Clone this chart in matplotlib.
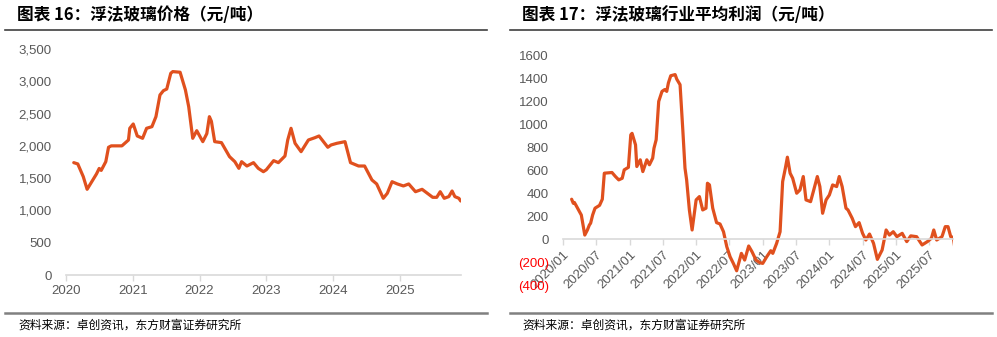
import matplotlib
matplotlib.use("Agg")
import matplotlib.pyplot as plt
from matplotlib.lines import Line2D
from matplotlib.ticker import FixedLocator
import pandas as pd

plt.rcParams['font.family'] = ['Liberation Sans Narrow', 'Liberation Sans', 'Noto Sans CJK SC', 'DejaVu Sans']

# ---------------- data ----------------
title_left = "图表 16：浮法玻璃价格（元/吨）"
title_right = "图表 17：浮法玻璃行业平均利润（元/吨）"
source_text = "资料来源：卓创资讯，东方财富证券研究所"

price_dates = [
    "2020-02-14", "2020-03-07", "2020-04-06", "2020-04-27", "2020-06-17", "2020-07-02",
    "2020-07-13", "2020-08-07", "2020-08-22", "2020-09-06", "2020-11-03", "2020-12-09",
    "2020-12-16", "2021-01-04", "2021-01-26", "2021-02-24", "2021-03-18", "2021-04-16",
    "2021-05-08", "2021-05-30", "2021-06-18", "2021-07-06", "2021-07-28", "2021-08-08",
    "2021-09-17", "2021-10-16", "2021-11-03", "2021-11-25", "2021-12-17", "2022-01-19",
    "2022-02-10", "2022-02-24", "2022-03-07", "2022-03-25", "2022-05-01", "2022-06-14",
    "2022-07-13", "2022-08-04", "2022-08-19", "2022-09-17", "2022-10-23", "2022-11-18",
    "2022-12-16", "2023-01-01", "2023-02-10", "2023-03-08", "2023-04-13", "2023-04-28",
    "2023-05-16", "2023-06-07", "2023-07-10", "2023-08-19", "2023-09-24", "2023-10-16",
    "2023-12-03", "2023-12-21", "2024-01-22", "2024-03-06", "2024-04-05", "2024-05-19",
    "2024-06-21", "2024-07-31", "2024-08-26", "2024-10-01", "2024-10-23", "2024-11-18",
    "2024-12-17", "2025-01-19", "2025-02-17", "2025-03-26", "2025-05-01", "2025-06-28",
    "2025-07-20", "2025-08-08", "2025-08-30", "2025-09-24", "2025-10-12", "2025-10-27",
    "2025-11-18", "2025-11-28",
]
price_values = [
    1740, 1720, 1523, 1327, 1564, 1650,
    1620, 1755, 1978, 2000, 2000, 2091,
    2272, 2339, 2153, 2117, 2272, 2297,
    2452, 2788, 2855, 2880, 3124, 3150,
    3140, 2866, 2607, 2117, 2235, 2065,
    2190, 2452, 2380, 2065, 2050, 1833,
    1755, 1652, 1755, 1688, 1740, 1652,
    1600, 1630, 1771, 1740, 1843, 2091,
    2272, 2040, 1910, 2091, 2127, 2153,
    1978, 2014, 2040, 2065, 1740, 1688,
    1688, 1472, 1410, 1188, 1265, 1445,
    1410, 1379, 1410, 1290, 1327, 1203,
    1203, 1290, 1188, 1214, 1301, 1214,
    1188, 1146,
]

profit_dates = [
    "2020-02-19", "2020-02-28", "2020-03-05", "2020-03-14", "2020-04-05", "2020-04-12",
    "2020-04-23", "2020-05-01", "2020-05-15", "2020-05-26", "2020-06-02", "2020-06-13",
    "2020-06-26", "2020-07-21", "2020-08-05", "2020-08-16", "2020-09-27", "2020-10-16",
    "2020-11-03", "2020-11-22", "2020-12-03", "2020-12-26", "2021-01-08", "2021-01-15",
    "2021-02-03", "2021-02-10", "2021-03-01", "2021-03-15", "2021-04-06", "2021-04-20",
    "2021-05-08", "2021-05-15", "2021-05-27", "2021-06-10", "2021-06-28", "2021-07-13",
    "2021-07-24", "2021-08-02", "2021-08-15", "2021-09-08", "2021-09-17", "2021-10-05",
    "2021-10-20", "2021-11-01", "2021-11-10", "2021-11-25", "2021-12-10", "2021-12-21",
    "2022-01-01", "2022-01-19", "2022-02-06", "2022-02-24", "2022-03-04", "2022-03-15",
    "2022-04-02", "2022-04-23", "2022-05-12", "2022-05-31", "2022-06-18", "2022-07-06",
    "2022-07-24", "2022-08-11", "2022-08-22", "2022-09-06", "2022-09-24", "2022-10-16",
    "2022-11-03", "2022-11-25", "2022-12-16", "2023-01-01", "2023-01-23", "2023-02-14",
    "2023-02-25", "2023-03-18", "2023-04-06", "2023-04-20", "2023-05-05", "2023-05-16",
    "2023-05-31", "2023-06-14", "2023-07-06", "2023-07-24", "2023-08-11", "2023-08-26",
    "2023-09-20", "2023-10-05", "2023-10-27", "2023-11-10", "2023-11-25", "2023-12-14",
    "2024-01-01", "2024-01-19", "2024-02-10", "2024-02-24", "2024-03-11", "2024-04-01",
    "2024-04-12", "2024-05-05", "2024-05-23", "2024-06-12", "2024-07-01", "2024-07-19",
    "2024-08-08", "2024-08-30", "2024-09-20", "2024-10-16", "2024-11-07", "2024-11-25",
    "2024-12-16", "2025-01-05", "2025-02-03", "2025-02-28", "2025-03-22", "2025-04-23",
    "2025-05-23", "2025-06-21", "2025-07-13", "2025-07-26", "2025-08-11", "2025-09-09",
    "2025-09-27", "2025-10-12", "2025-10-27", "2025-11-10", "2025-11-18",
]
profit_values = [
    348, 313, 320, 295, 231, 211,
    110, 37, 80, 124, 140, 211,
    270, 295, 348, 574, 580, 545,
    516, 530, 603, 625, 907, 920,
    820, 632, 690, 588, 690, 647,
    705, 790, 864, 1197, 1284, 1300,
    1284, 1357, 1420, 1430, 1390, 1342,
    951, 618, 516, 255, 81, 211,
    342, 371, 255, 270, 487, 473,
    270, 145, 133, 66, -64, -151,
    -209, -273, -209, -122, -180, -58,
    -107, -180, -203, -209, -151, -99,
    -122, -35, 66, 501, 618, 713,
    574, 530, 400, 429, 545, 342,
    327, 414, 545, 458, 226, 342,
    385, 472, 458, 545, 458, 270,
    255, 183, 110, 145, 52, -6,
    46, -35, -174, -93, 81, 37,
    66, 23, 52, -20, 30, 23,
    -49, -20, 9, 81, -6, 23,
    110, 110, 23, 17, -70,
]

price_yticks = [0, 500, 1000, 1500, 2000, 2500, 3000, 3500]
price_xticks = ["2020-01-01", "2021-01-01", "2022-01-01", "2023-01-01", "2024-01-01", "2025-01-01"]
price_xlabels = ["2020", "2021", "2022", "2023", "2024", "2025"]

profit_yticks = [-400, -200, 0, 200, 400, 600, 800, 1000, 1200, 1400, 1600]
profit_ylabels = ["(400)", "(200)", "0", "200", "400", "600", "800", "1000", "1200", "1400", "1600"]
profit_xticks = ["2020-01-01", "2020-07-01", "2021-01-01", "2021-07-01", "2022-01-01", "2022-07-01",
                 "2023-01-01", "2023-07-01", "2024-01-01", "2024-07-01", "2025-01-01", "2025-07-01"]
profit_xlabels = ["2020/01", "2020/07", "2021/01", "2021/07", "2022/01", "2022/07",
                  "2023/01", "2023/07", "2024/01", "2024/07", "2025/01", "2025/07"]

# ---------------- style ----------------
W, H = 997, 337
LINE_COLOR = "#E0501E"
TICK_COLOR = "#595959"
AXIS_COLOR = "#D9D9D9"
CJK = ['Noto Sans CJK SC', 'DejaVu Sans']

fig = plt.figure(figsize=(W / 100, H / 100), dpi=100)


def px_axes(x0, y_top, x1, y_bot):
    return fig.add_axes([x0 / W, 1 - y_bot / H, (x1 - x0) / W, (y_bot - y_top) / H])


def hline(x0, x1, y, color, lw):
    fig.add_artist(Line2D([x0 / W, x1 / W], [1 - y / H, 1 - y / H],
                          transform=fig.transFigure, color=color, lw=lw))


# titles and rules
fig.text(17 / W, 1 - 15 / H, title_left, family=CJK, weight='bold', fontsize=12,
         va='center', ha='left', color='black')
fig.text(522 / W, 1 - 15 / H, title_right, family=CJK, weight='bold', fontsize=12,
         va='center', ha='left', color='black')
hline(5, 487, 29.5, '#404040', 1.2)
hline(510, 992, 29.5, '#404040', 1.2)
hline(5, 487, 313, '#808080', 1.8)
hline(510, 992, 313, '#808080', 1.8)
fig.text(18 / W, 1 - 325 / H, source_text, family=CJK, fontsize=8.5, va='center', ha='left',
         color='black')
fig.text(522 / W, 1 - 325 / H, source_text, family=CJK, fontsize=8.5, va='center', ha='left',
         color='black')

# ---------------- left chart ----------------
ax1 = px_axes(65.7, 49, 460.7, 275)
for s in ['top', 'right', 'left']:
    ax1.spines[s].set_visible(False)
ax1.spines['bottom'].set_color(AXIS_COLOR)
ax1.spines['bottom'].set_linewidth(1.2)
ax1.plot(pd.to_datetime(price_dates), price_values, color=LINE_COLOR, lw=2.3,
         solid_joinstyle='round', solid_capstyle='round')
ax1.set_ylim(0, 3500)
ax1.set_xlim(pd.Timestamp("2020-01-01"), pd.Timestamp("2025-11-28"))
ax1.set_yticks(price_yticks)
ax1.set_yticklabels([f"{v:,}" for v in price_yticks])
ax1.set_xticks(pd.to_datetime(price_xticks))
ax1.set_xticklabels(price_xlabels)
ax1.tick_params(axis='y', length=0, pad=10, labelsize=9.5, labelcolor=TICK_COLOR)
ax1.tick_params(axis='x', length=4, color=AXIS_COLOR, width=1, pad=3, labelsize=9.5,
                labelcolor=TICK_COLOR)
ax1.patch.set_alpha(0)

# ---------------- right chart ----------------
ax2 = px_axes(562.7, 55, 953.3, 285.4)
for s in ['top', 'right', 'left']:
    ax2.spines[s].set_visible(False)
ax2.spines['bottom'].set_position(('data', 0))
ax2.spines['bottom'].set_color(AXIS_COLOR)
ax2.spines['bottom'].set_linewidth(1.2)
ax2.plot(pd.to_datetime(profit_dates), profit_values, color=LINE_COLOR, lw=2.3,
         solid_joinstyle='round', solid_capstyle='round')
ax2.set_ylim(-400, 1600)
ax2.set_xlim(pd.Timestamp("2020-01-01"), pd.Timestamp("2025-11-10"))
ax2.yaxis.set_major_locator(FixedLocator(profit_yticks))
ax2.set_yticklabels(profit_ylabels)
ax2.set_xticks(pd.to_datetime(profit_xticks))
ax2.set_xticklabels(profit_xlabels, rotation=45, ha='right', va='top', rotation_mode='anchor')
ax2.tick_params(axis='y', length=0, pad=10, labelsize=9.5)
ax2.tick_params(axis='x', length=4, color=AXIS_COLOR, width=1, pad=3, labelsize=9.5,
                labelcolor=TICK_COLOR)
for lab, v in zip(ax2.get_yticklabels(), profit_yticks):
    lab.set_color('#FF0000' if v < 0 else TICK_COLOR)
ax2.patch.set_alpha(0)

fig.savefig("out.png", dpi=100)
